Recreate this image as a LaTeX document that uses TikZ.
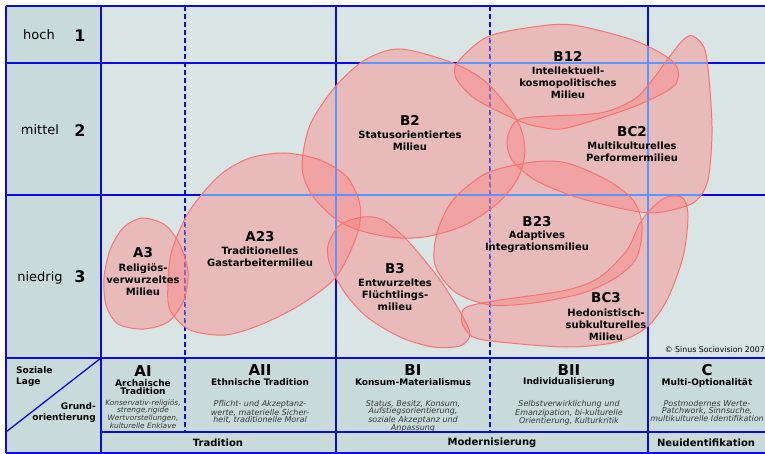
\documentclass[tikz,border=0pt]{standalone}
\usepackage{fontspec}
\setmainfont{DejaVu Sans}[BoldFont={DejaVu Sans Bold},ItalicFont={DejaVu Sans Oblique},BoldItalicFont={DejaVu Sans Bold Oblique}]
\definecolor{gridblue}{RGB}{10,10,230}
\definecolor{lightline}{RGB}{90,150,255}
\definecolor{leftbg}{RGB}{200,218,218}
\definecolor{chartbg}{RGB}{217,228,228}
\definecolor{blobfill}{RGB}{255,130,130}
\definecolor{blobedge}{RGB}{250,115,115}
\definecolor{desccol}{RGB}{55,55,55}
\newcommand\myfs[2]{\fontsize{#1}{#2}\selectfont}
\def\blobAthree{plot[smooth cycle] coordinates {(142,218) (165,225) (180,245) (188,272) (184,300) (168,322) (143,329) (118,324) (106,305) (104,278) (110,250) (123,228)}}
\def\blobAtt{plot[smooth cycle] coordinates {(168,283) (172,250) (190,210) (220,175) (250,158) (285,153) (320,160) (347,177) (360,205) (357,235) (336,277) (300,305) (260,325) (225,335) (190,330) (170,310)}}
\def\blobBtwo{plot[smooth cycle] coordinates {(400,49) (453,63) (487,83) (517,120) (525,150) (518,178) (498,203) (465,225) (430,236) (400,238) (365,232) (337,220) (312,195) (302,167) (310,125) (335,87) (365,60)}}
\def\blobBot{plot[smooth cycle] coordinates {(457,63) (487,37) (533,27) (573,25) (633,40) (667,57) (678,70) (673,87) (633,107) (567,128) (540,127) (517,120) (477,100) (457,80)}}
\def\blobBCtwo{plot[smooth cycle] coordinates {(693,36) (705,50) (710,90) (712,135) (708,180) (697,200) (680,208) (650,213) (610,206) (570,195) (535,180) (512,160) (507,140) (515,122) (533,117) (600,113) (633,100) (650,83) (667,60) (683,40)}}
\def\blobBtt{plot[smooth cycle] coordinates {(437,233) (453,200) (487,173) (533,162) (567,163) (607,180) (633,200) (642,225) (637,257) (617,277) (583,293) (533,303) (490,305) (455,292) (435,265)}}
\def\blobBthree{plot[smooth cycle] coordinates {(363,217) (383,220) (407,240) (440,280) (463,317) (470,335) (460,346) (433,347) (400,337) (367,317) (345,293) (330,265) (328,245) (340,225)}}
\def\blobBCthree{plot[smooth cycle] coordinates {(473,305) (500,300) (567,290) (600,277) (627,250) (640,223) (653,207) (667,197) (683,198) (688,217) (683,257) (667,300) (647,327) (617,342) (567,347) (500,342) (473,337) (462,323) (463,310)}}
\begin{document}
\begin{tikzpicture}[x=1pt,y=-1pt,
  gridline/.style={gridblue,line width=1.3pt},
  griddash/.style={gridblue,line width=2pt,dash pattern=on 5pt off 3pt},
  lightsolid/.style={lightline,line width=1.3pt},
  lightdash/.style={lightline,line width=0.6pt,dash pattern=on 2pt off 2pt},
  blobfillst/.style={fill=blobfill,fill opacity=0.42},
  blobline/.style={draw=blobedge,line width=1pt},
  rowlab/.style={font=\myfs{13}{15},inner sep=0},
  rownum/.style={font=\bfseries\myfs{16}{18},inner sep=0},
  btitle/.style={font=\bfseries\myfs{13.5}{15},inner sep=0},
  bsub/.style={font=\bfseries\myfs{10}{12},align=center,inner sep=0},
  hnum/.style={font=\bfseries\myfs{15}{16},inner sep=0},
  hsub/.style={font=\bfseries\myfs{9}{8.5},align=center,inner sep=0},
  hdesc/.style={font=\itshape\myfs{8}{7.6},text=desccol,align=center,inner sep=0,anchor=north},
  foot/.style={font=\bfseries\myfs{10}{12},inner sep=0},
  corner/.style={font=\bfseries\myfs{9}{10.5},inner sep=0}]
\useasboundingbox (0,0) rectangle (765,454);
% backgrounds
\fill[leftbg] (6,6) rectangle (765,453);
\fill[chartbg] (101,6) rectangle (765,358);
% grid
\draw[gridline] (6,6) -- (765,6);
\draw[gridline] (6,63) -- (765,63);
\draw[gridline] (6,195) -- (765,195);
\draw[gridline] (6,358) -- (765,358);
\draw[gridline] (101,432) -- (765,432);
\draw[gridline] (6,453) -- (765,453);
\draw[gridline] (6,6) -- (6,453);
\draw[gridline] (101,6) -- (101,453);
\draw[gridline] (336,6) -- (336,453);
\draw[gridline] (648,6) -- (648,453);
\draw[griddash] (185,6) -- (185,432);
\draw[griddash] (490,6) -- (490,432);
\draw[gridline] (6,432) -- (101,358);
% blob fills
\fill[blobfillst] \blobAthree;
\fill[blobfillst] \blobAtt;
\fill[blobfillst] \blobBtwo;
\fill[blobfillst] \blobBot;
\fill[blobfillst] \blobBCtwo;
\fill[blobfillst] \blobBtt;
\fill[blobfillst] \blobBthree;
\fill[blobfillst] \blobBCthree;
% lighter grid lines seen through the blobs
\begin{scope}
\clip \blobAthree \blobAtt \blobBtwo \blobBot \blobBCtwo \blobBtt \blobBthree \blobBCthree;
\draw[lightsolid] (6,63) -- (765,63);
\draw[lightsolid] (6,195) -- (765,195);
\draw[lightsolid] (101,6) -- (101,358);
\draw[lightsolid] (336,6) -- (336,358);
\draw[lightsolid] (648,6) -- (648,358);
\draw[lightdash] (185,6) -- (185,358);
\draw[lightdash] (490,6) -- (490,358);
\end{scope}
% blob outlines
\draw[blobline] \blobAthree;
\draw[blobline] \blobAtt;
\draw[blobline] \blobBtwo;
\draw[blobline] \blobBot;
\draw[blobline] \blobBCtwo;
\draw[blobline] \blobBtt;
\draw[blobline] \blobBthree;
\draw[blobline] \blobBCthree;
% row labels
\node[rowlab] (hoch) at (39,35) {hoch};
\node[rownum] (n1) at (80,36) {1};
\node[rowlab] (mittel) at (40,130) {mittel};
\node[rownum] (n2) at (80,131) {2};
\node[rowlab] (niedrig) at (40,278) {niedrig};
\node[rownum] (n3) at (80,277) {3};
% milieu labels
\node[btitle] (tA3) at (143,253) {A3};
\node[bsub] (sA3) at (143,280) {Religiös-\\verwurzeltes\\Milieu};
\node[btitle] (tA23) at (260,237) {A23};
\node[bsub] (sA23) at (260,256.5) {Traditionelles\\Gastarbeitermilieu};
\node[btitle] (tB2) at (410,120) {B2};
\node[bsub] (sB2) at (410,140.5) {Statusorientiertes\\Milieu};
\node[btitle] (tB12) at (568,56) {B12};
\node[bsub] (sB12) at (568,82.5) {Intellektuell-\\kosmopolitisches\\Milieu};
\node[btitle] (tBC2) at (632,132) {BC2};
\node[bsub] (sBC2) at (632,152) {Multikulturelles\\Performermilieu};
\node[btitle] (tB23) at (537,222) {B23};
\node[bsub] (sB23) at (537,241.5) {Adaptives\\Integrationsmilieu};
\node[btitle] (tB3) at (395,269) {B3};
\node[bsub] (sB3) at (395,295) {Entwurzeltes\\Flüchtlings-\\milieu};
\node[btitle] (tBC3) at (606,298) {BC3};
\node[bsub] (sBC3) at (606,325) {Hedonistisch-\\subkulturelles\\Milieu};
\node[font=\myfs{7.8}{9},inner sep=0,anchor=east] (copy) at (765,350) {© Sinus Sociovision 2007};
% corner labels
\node[corner,align=left,anchor=west] (soz) at (16,376.5) {Soziale\\Lage};
\node[corner,align=right,anchor=east] (grund) at (96,412.5) {Grund-\\orientierung};
% column headers
\node[hnum] (hAI) at (143,371) {AI};
\node[hsub] (sAI) at (143,387) {Archaische\\Tradition};
\node[hdesc,font=\itshape\myfs{7.4}{7.6}] (dAI) at (143,399.5) {Konservativ-religiös,\\strenge,rigide\\Wertvorstellungen,\\kulturelle Enklave};
\node[hnum] (hAII) at (260,370) {AII};
\node[hsub] (sAII) at (260,382) {Ethnische Tradition};
\node[hdesc] (dAII) at (260,400) {Pflicht- und Akzeptanz-\\werte, materielle Sicher-\\heit, traditionelle Moral};
\node[hnum] (hBI) at (413,370) {BI};
\node[hsub] (sBI) at (413,382) {Konsum-Materialismus};
\node[hdesc] (dBI) at (413,400) {Status, Besitz, Konsum,\\Aufstiegsorientierung,\\soziale Akzeptanz und\\Anpassung};
\node[hnum] (hBII) at (569,370) {BII};
\node[hsub] (sBII) at (569,382) {Individualisierung};
\node[hdesc] (dBII) at (569,400) {Selbstverwirklichung und\\Emanzipation, bi-kulturelle\\Orientierung, Kulturkritik};
\node[hnum] (hC) at (707,370) {C};
\node[hsub] (sC) at (707,383) {Multi-Optionalität};
\node[hdesc] (dC) at (707,400) {Postmodernes Werte-\\Patchwork, Sinnsuche,\\multikulturelle Identifikation};
% bottom row
\node[foot] (fT) at (218,443) {Tradition};
\node[foot] (fM) at (492,443) {Modernisierung};
\node[foot] (fN) at (706,443) {Neuidentifikation};
\end{tikzpicture}
\end{document}
